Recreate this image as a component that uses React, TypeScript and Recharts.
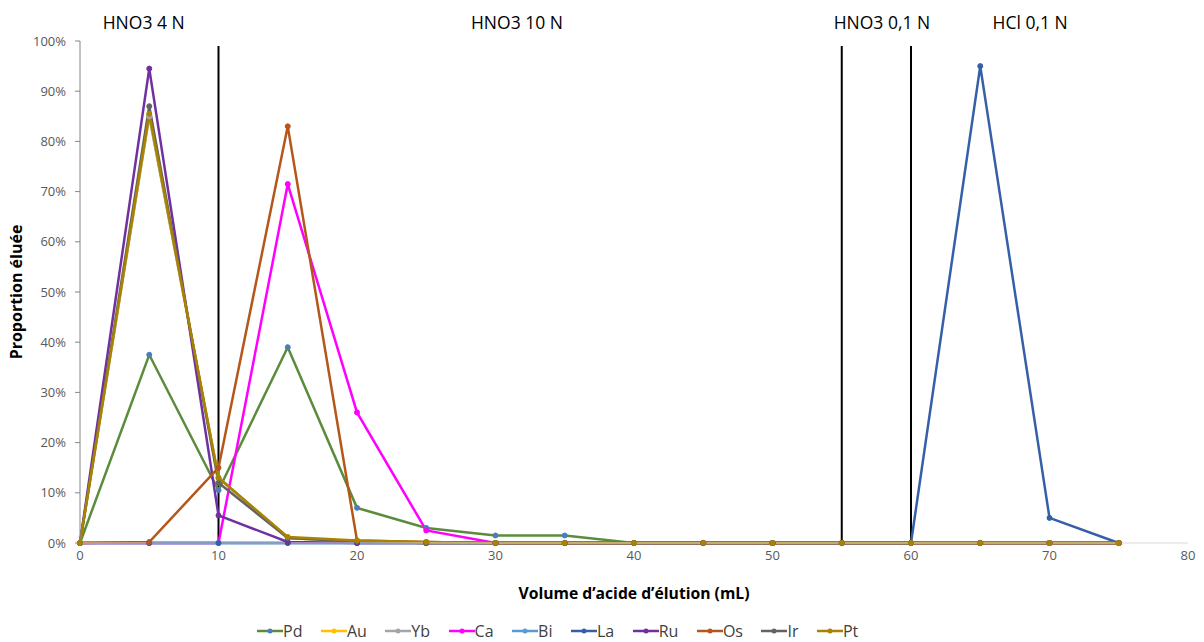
import React from 'react';
import {
  LineChart,
  Line,
  XAxis,
  YAxis,
  Legend,
  ReferenceLine,
  ReferenceDot,
  Label,
} from 'recharts';

// volume d'acide (mL)
const volumes = [0, 5, 10, 15, 20, 25, 30, 35, 40, 45, 50, 55, 60, 65, 70, 75];

// proportion éluée (%) par élément
const pd = [0, 37.5, 10.5, 39, 7, 3, 1.5, 1.5, 0, 0, 0, 0, 0, 0, 0, 0];
const au = [0, 85, 13, 1, 0.3, 0, 0, 0, 0, 0, 0, 0, 0, 0, 0, 0];
const yb = [0, 85, 13, 1, 0.3, 0, 0, 0, 0, 0, 0, 0, 0, 0, 0, 0];
const ca = [0, 0, 0, 71.5, 26, 2.5, 0, 0, 0, 0, 0, 0, 0, 0, 0, 0];
const bi = [0, 0, 0, 0, 0, 0, 0, 0, 0, 0, 0, 0, 0, 0, 0, 0];
const la = [0, 0, 0, 0, 0, 0, 0, 0, 0, 0, 0, 0, 0, 95, 5, 0];
const ru = [0, 94.5, 5.5, 0.2, 0, 0, 0, 0, 0, 0, 0, 0, 0, 0, 0, 0];
const os = [0, 0.2, 15, 83, 0.5, 0.2, 0, 0, 0, 0, 0, 0, 0, 0, 0, 0];
const ir = [0, 87, 12, 1, 0.3, 0, 0, 0, 0, 0, 0, 0, 0, 0, 0, 0];
const pt = [0, 85.5, 13, 1.2, 0.5, 0.2, 0, 0, 0, 0, 0, 0, 0, 0, 0, 0];

const xTicks = [0, 10, 20, 30, 40, 50, 60, 70, 80];
const yTicks = [0, 10, 20, 30, 40, 50, 60, 70, 80, 90, 100];

// changements d'éluant
const separators = [10, 55, 60];
const eluents = [
  { label: 'HNO3 4 N', x: 4.6 },
  { label: 'HNO3 10 N', x: 31.55 },
  { label: 'HNO3 0,1 N', x: 57.9 },
  { label: 'HCl 0,1 N', x: 68.6 },
];

const series = [
  { key: 'Pd', values: pd, color: '#5b8c3c', dot: '#4a7ebb' },
  { key: 'Au', values: au, color: '#ffc000', dot: '#ffc000' },
  { key: 'Yb', values: yb, color: '#a5a5a5', dot: '#a5a5a5' },
  { key: 'Ca', values: ca, color: '#ff00ff', dot: '#ff00ff' },
  { key: 'Bi', values: bi, color: '#5b9bd5', dot: '#5b9bd5' },
  { key: 'La', values: la, color: '#3560a8', dot: '#3560a8' },
  { key: 'Ru', values: ru, color: '#7030a0', dot: '#7030a0' },
  { key: 'Os', values: os, color: '#b5561b', dot: '#b5561b' },
  { key: 'Ir', values: ir, color: '#636363', dot: '#636363' },
  { key: 'Pt', values: pt, color: '#a98300', dot: '#a98300' },
];

const data = volumes.map((v, i) => {
  const row: { [k: string]: number } = { v };
  series.forEach((s) => {
    row[s.key] = s.values[i];
  });
  return row;
});

const font = "'Open Sans', 'Liberation Sans', sans-serif";

const LegendContent = () => (
  <div
    style={{
      display: 'flex',
      justifyContent: 'flex-start',
      paddingLeft: 257,
      fontFamily: font,
      fontSize: 16,
      color: '#404040',
      lineHeight: '22px',
    }}
  >
    {series.map((s) => (
      <div key={s.key} style={{ display: 'flex', alignItems: 'center', marginRight: 18.5 }}>
        <svg width={26} height={10}>
          <line x1={0} y1={5} x2={26} y2={5} stroke={s.color} strokeWidth={2.5} />
          <circle cx={13} cy={5} r={2.5} fill={s.dot} />
        </svg>
        <span>{s.key}</span>
      </div>
    ))}
  </div>
);

const App = () => {
  return (
    <div style={{ position: 'absolute', left: 0, top: 0, width: 1204, height: 642, background: '#fff' }}>
      <LineChart width={1204} height={642} data={data} margin={{ top: 41, right: 16, left: 0, bottom: 0 }}>
        <XAxis
          dataKey="v"
          type="number"
          domain={[0, 80]}
          ticks={xTicks}
          stroke="#d9d9d9"
          tickLine={false}
          height={77}
          tick={{ fill: '#595959', fontSize: 13, fontFamily: font }}
        >
          <Label
            value="Volume d’acide d’élution (mL)"
            position="insideTop"
            offset={45}
            style={{ fill: '#000', fontWeight: 'bold', fontSize: 15.7, fontFamily: font }}
          />
        </XAxis>
        <YAxis
          type="number"
          domain={[0, 100]}
          ticks={yTicks}
          width={80}
          stroke="#868686"
          tickSize={5}
          tickMargin={9}
          tickFormatter={(t: number) => `${t}%`}
          tick={{ fill: '#595959', fontSize: 13, fontFamily: font }}
        >
          <Label
            value="Proportion éluée"
            angle={-90}
            position="insideLeft"
            offset={16}
            style={{ textAnchor: 'middle', fill: '#000', fontWeight: 'bold', fontSize: 16, fontFamily: font }}
          />
        </YAxis>
        <Legend verticalAlign="bottom" height={22} content={<LegendContent />} />
        {separators.map((x) => (
          <ReferenceLine
            key={x}
            segment={[{ x, y: 0 }, { x, y: 99 }]}
            stroke="#000"
            strokeWidth={2}
          />
        ))}
        {eluents.map((e) => (
          <ReferenceDot key={e.label} x={e.x} y={100} r={0} fill="none" stroke="none" ifOverflow="visible">
            <Label
              value={e.label}
              position="top"
              offset={12}
              style={{ fill: '#000', fontSize: 17.5, fontFamily: font }}
            />
          </ReferenceDot>
        ))}
        {series.map((s) => (
          <Line
            key={s.key}
            dataKey={s.key}
            type="linear"
            stroke={s.color}
            strokeWidth={2.5}
            dot={{ r: 2.5, fill: s.dot, stroke: s.dot, strokeWidth: 1 }}
            isAnimationActive={false}
          />
        ))}
      </LineChart>
    </div>
  );
};

export default App;
